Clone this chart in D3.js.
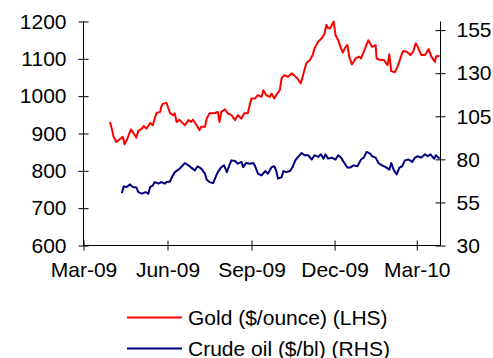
<!DOCTYPE html>
<html>
<head>
<meta charset="utf-8">
<script src="https://cdn.jsdelivr.net/npm/d3@7"></script>
<style>
  html, body { margin: 0; padding: 0; background: #fff; }
  svg { display: block; font-family: "Liberation Sans", Arial, sans-serif; }
</style>
</head>
<body>
<svg id="chart" width="493" height="358"></svg>
<script>
// Gold price, $/ounce (left axis)
const goldDates = [
  "2009-03-30","2009-04-01","2009-04-03","2009-04-06","2009-04-10","2009-04-13","2009-04-15","2009-04-18",
  "2009-04-22","2009-04-25","2009-04-28","2009-04-30","2009-05-04","2009-05-06","2009-05-09","2009-05-13",
  "2009-05-16","2009-05-18","2009-05-20","2009-05-24","2009-05-25","2009-05-27","2009-05-31","2009-06-02",
  "2009-06-04","2009-06-07","2009-06-09","2009-06-11","2009-06-14","2009-06-18","2009-06-20","2009-06-24",
  "2009-06-27","2009-06-29","2009-07-03","2009-07-06","2009-07-08","2009-07-12","2009-07-14","2009-07-17",
  "2009-07-23","2009-07-26","2009-07-28","2009-07-30","2009-08-03","2009-08-06","2009-08-10","2009-08-14",
  "2009-08-17","2009-08-21","2009-08-24","2009-08-28","2009-08-30","2009-09-01","2009-09-05","2009-09-08",
  "2009-09-12","2009-09-14","2009-09-17","2009-09-21","2009-09-23","2009-09-26","2009-09-28","2009-10-02",
  "2009-10-04","2009-10-07","2009-10-11","2009-10-15","2009-10-18","2009-10-21","2009-10-25","2009-10-27",
  "2009-10-31","2009-11-04","2009-11-07","2009-11-09","2009-11-13","2009-11-17","2009-11-20","2009-11-22",
  "2009-11-24","2009-11-26","2009-11-30","2009-12-02","2009-12-05","2009-12-08","2009-12-10","2009-12-13",
  "2009-12-15","2009-12-17","2009-12-20","2009-12-24","2009-12-28","2009-12-30","2010-01-02","2010-01-04",
  "2010-01-07","2010-01-11","2010-01-15","2010-01-16","2010-01-20","2010-01-24","2010-01-28","2010-01-30",
  "2010-02-01","2010-02-05","2010-02-08","2010-02-11","2010-02-14","2010-02-18","2010-02-22","2010-02-25",
  "2010-02-28","2010-03-02","2010-03-06","2010-03-10","2010-03-14","2010-03-17","2010-03-21","2010-03-22",
  "2010-03-26"
];
const goldValues = [
  931, 913, 891, 877, 885, 891, 871, 886,
  911, 900, 889, 907, 913, 920, 913, 928,
  922, 940, 955, 958, 971, 980, 982, 967,
  954, 949, 954, 931, 937, 927, 922, 936,
  931, 937, 922, 909, 918, 918, 940, 954,
  955, 958, 931, 958, 965, 954, 949, 936,
  949, 940, 954, 954, 976, 994, 994, 1003,
  998, 1016, 1003, 998, 1007, 994, 1003, 1016,
  1048, 1056, 1052, 1061, 1055, 1048, 1034, 1052,
  1088, 1097, 1110, 1128, 1146, 1155, 1168, 1191,
  1182, 1182, 1200, 1164, 1150, 1128, 1117, 1132,
  1137, 1106, 1085, 1101, 1106, 1101, 1119, 1132,
  1150, 1132, 1137, 1101, 1097, 1097, 1083, 1112,
  1067, 1064, 1079, 1101, 1121, 1119, 1110, 1119,
  1142, 1132, 1110, 1110, 1126, 1106, 1092, 1106,
  1108
];

// Crude oil price, $/bl (right axis)
const oilDates = [
  "2009-04-12","2009-04-14","2009-04-17","2009-04-21","2009-04-24","2009-04-28","2009-04-30","2009-05-04",
  "2009-05-08","2009-05-11","2009-05-13","2009-05-16","2009-05-18","2009-05-22","2009-05-25","2009-05-29",
  "2009-05-31","2009-06-04","2009-06-05","2009-06-09","2009-06-13","2009-06-16","2009-06-20","2009-06-24",
  "2009-06-27","2009-07-01","2009-07-04","2009-07-08","2009-07-12","2009-07-14","2009-07-17","2009-07-21",
  "2009-07-23","2009-07-26","2009-07-30","2009-08-02","2009-08-05","2009-08-07","2009-08-10","2009-08-14",
  "2009-08-17","2009-08-21","2009-08-23","2009-08-26","2009-08-30","2009-09-03","2009-09-05","2009-09-08",
  "2009-09-12","2009-09-16","2009-09-19","2009-09-23","2009-09-26","2009-09-28","2009-09-30","2009-10-04",
  "2009-10-06","2009-10-09","2009-10-13","2009-10-16","2009-10-19","2009-10-22","2009-10-26","2009-10-29",
  "2009-11-02","2009-11-06","2009-11-09","2009-11-13","2009-11-16","2009-11-19","2009-11-21","2009-11-24",
  "2009-11-28","2009-12-02","2009-12-05","2009-12-08","2009-12-11","2009-12-15","2009-12-18","2009-12-22",
  "2009-12-26","2009-12-30","2010-01-02","2010-01-05","2010-01-09","2010-01-11","2010-01-15","2010-01-18",
  "2010-01-22","2010-01-26","2010-01-30","2010-02-01","2010-02-04","2010-02-07","2010-02-10","2010-02-13",
  "2010-02-16","2010-02-20","2010-02-24","2010-02-27","2010-03-02","2010-03-06","2010-03-10","2010-03-13",
  "2010-03-16","2010-03-20","2010-03-22","2010-03-26"
];
const oilValues = [
  60.4, 64.3, 63.9, 65.5, 63.9, 63.6, 61.0, 60.1,
  61.0, 60.1, 63.9, 64.9, 66.8, 65.9, 66.8, 65.9,
  66.8, 67.2, 68.8, 72.6, 74.0, 75.5, 77.9, 76.5,
  75.2, 73.6, 76.0, 74.6, 71.7, 68.2, 66.8, 66.2,
  68.8, 72.6, 75.5, 76.5, 72.6, 75.5, 79.4, 79.0,
  77.5, 78.5, 75.5, 77.9, 77.5, 77.9, 76.0, 71.7,
  70.7, 73.2, 71.7, 75.5, 76.0, 73.6, 68.8, 69.7,
  73.2, 72.6, 73.2, 75.5, 79.4, 81.4, 83.7, 82.4,
  82.4, 79.9, 82.4, 81.4, 82.9, 80.4, 82.9, 80.4,
  81.0, 79.9, 82.4, 81.0, 78.5, 75.2, 75.2, 76.5,
  76.0, 79.9, 81.0, 84.3, 83.3, 81.8, 81.0, 77.9,
  76.5, 75.5, 74.0, 77.9, 73.6, 71.3, 75.2, 76.0,
  79.4, 79.9, 78.5, 81.0, 81.8, 81.0, 82.9, 81.8,
  82.9, 80.4, 82.4, 80.4
];

// Axis ticks
const dateTicks = ["2009-03-01", "2009-06-01", "2009-09-01", "2009-12-01", "2010-03-01"];
const goldTicks = [600, 700, 800, 900, 1000, 1100, 1200];
const oilTicks = [30, 55, 80, 105, 130, 155];

// Legend entries
const seriesNames = ["Gold ($/ounce) (LHS)", "Crude oil ($/bl) (RHS)"];
const seriesColors = ["#ff0000", "#000080"];

const parse = d3.utcParse("%Y-%m-%d");
const fmt = d3.utcFormat("%b-%y");

const gold = goldDates.map((d, i) => ({ date: parse(d), value: goldValues[i] }));
const oil = oilDates.map((d, i) => ({ date: parse(d), value: oilValues[i] }));

const plot = { left: 83.5, right: 440.5, top: 21.5, bottom: 245.5 };
const fontSize = 21;

const svg = d3.select("#chart");

const x = d3.scaleUtc()
  .domain([parse("2009-03-01"), parse("2010-03-27")])
  .range([plot.left, plot.right]);
const yGold = d3.scaleLinear().domain([600, 1200]).range([plot.bottom, plot.top]);
const yOil = d3.scaleLinear().domain([30, 160]).range([plot.bottom, plot.top]);

const axisColor = "#000";

// Left axis (gold)
const gL = svg.append("g").attr("transform", `translate(${plot.left},0)`)
  .call(d3.axisLeft(yGold).tickValues(goldTicks).tickFormat(d3.format("d")).tickSize(5).tickPadding(12));
// Right axis (oil)
const gR = svg.append("g").attr("transform", `translate(${plot.right},0)`)
  .call(d3.axisRight(yOil).tickValues(oilTicks).tickFormat(d3.format("d")).tickSize(5).tickPadding(11));
// Bottom axis (dates)
const gB = svg.append("g").attr("transform", `translate(0,${plot.bottom})`)
  .call(d3.axisBottom(x).tickValues(dateTicks.map(parse)).tickFormat(fmt).tickSize(5).tickPadding(12));

[gL, gR, gB].forEach(g => {
  g.select(".domain").remove();
  g.selectAll(".tick line").attr("stroke", axisColor).attr("stroke-width", 1);
  g.selectAll(".tick text")
    .attr("fill", "#000")
    .style("font-family", '"Liberation Sans", Arial, sans-serif')
    .style("font-size", fontSize + "px");
});
// ticks cross the axis lines
gL.selectAll(".tick line").attr("x1", 5).attr("x2", -5);
gR.selectAll(".tick line").attr("x1", -5).attr("x2", 5);
gB.selectAll(".tick line").attr("y1", -5).attr("y2", 5);
gB.selectAll(".tick text").attr("y", 17);

// Axis lines
const axes = svg.append("g").attr("stroke", axisColor).attr("stroke-width", 1);
axes.append("line").attr("x1", plot.left).attr("x2", plot.left).attr("y1", yGold(1200)).attr("y2", plot.bottom);
axes.append("line").attr("x1", plot.right).attr("x2", plot.right).attr("y1", yOil(160)).attr("y2", plot.bottom);
axes.append("line").attr("x1", plot.left).attr("x2", plot.right).attr("y1", plot.bottom).attr("y2", plot.bottom);

// Series lines
const lineGold = d3.line().x(d => x(d.date)).y(d => yGold(d.value));
const lineOil = d3.line().x(d => x(d.date)).y(d => yOil(d.value));

svg.append("path").datum(oil)
  .attr("d", lineOil)
  .attr("fill", "none")
  .attr("stroke", seriesColors[1])
  .attr("stroke-width", 2)
  .attr("stroke-linejoin", "round");

svg.append("path").datum(gold)
  .attr("d", lineGold)
  .attr("fill", "none")
  .attr("stroke", seriesColors[0])
  .attr("stroke-width", 2)
  .attr("stroke-linejoin", "round");

// Legend
const legend = svg.append("g");
const legendY = [317.5, 348.5];
seriesNames.forEach((name, i) => {
  legend.append("line")
    .attr("x1", 127).attr("x2", 182)
    .attr("y1", legendY[i]).attr("y2", legendY[i])
    .attr("stroke", seriesColors[i]).attr("stroke-width", 2);
  legend.append("text")
    .attr("x", 188).attr("y", legendY[i]).attr("dy", "0.35em")
    .attr("fill", "#000")
    .style("font-size", fontSize + "px")
    .text(name);
});
</script>
</body>
</html>
